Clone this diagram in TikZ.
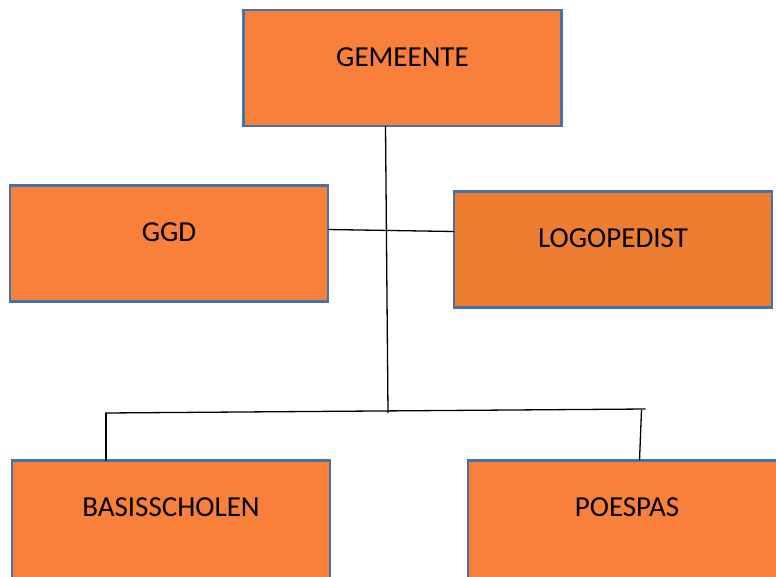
\documentclass[tikz,border=0pt]{standalone}
\usepackage{fontspec}
\setmainfont{Carlito}
\definecolor{boxfill}{HTML}{F8803A}
\definecolor{boxfilltwo}{HTML}{ED7D31}
\definecolor{boxline}{HTML}{4573A9}
\tikzset{
  orgbox/.style={draw=boxline, line width=2.6pt, fill=boxfill, rectangle,
    minimum width=318pt, minimum height=116pt, inner sep=0pt, outer sep=0pt},
  lowbox/.style={orgbox, minimum height=140pt},
  lbl/.style={font=\fontsize{29}{34}\selectfont, text=black, yshift=11pt, inner sep=0pt},
  lowlbl/.style={lbl, yshift=12pt},
  conn/.style={draw=black, line width=1.3pt}
}
\begin{document}
\begin{tikzpicture}[x=1pt,y=-1pt]
\useasboundingbox (0,0) rectangle (776,576);
\clip (0,0) rectangle (776,576);
\node[orgbox, label={[lbl]center:GEMEENTE}] (gem) at (402.5,68) {};
\node[orgbox, label={[lbl]center:GGD}] (ggd) at (169,243.5) {};
\node[orgbox, fill=boxfilltwo, label={[lbl]center:LOGOPEDIST}] (logo) at (613,249.5) {};
\node[lowbox, label={[lowlbl]center:BASISSCHOLEN}] (basis) at (171,530.5) {};
\node[lowbox, minimum width=330pt, label={[lowlbl, xshift=-6pt]center:POESPAS}] (poes) at (633,530.5) {};
\coordinate (jmid) at (388,413);
\coordinate (jleft) at (105,413);
\coordinate (jright) at (645.5,409);
\coordinate (dleft) at (106,413);
\coordinate (dright) at (641.5,410);
\draw[conn] (385.5,0 |- gem.south) -- (jmid);
\draw[conn] (ggd.east |- 0,229.5) -- (logo.west |- 0,231.5);
\draw[conn] (jleft) -- (jright);
\draw[conn] (dleft) -- (106,0 |- basis.north);
\draw[conn] (dright) -- (639.5,0 |- poes.north);
\end{tikzpicture}
\end{document}
